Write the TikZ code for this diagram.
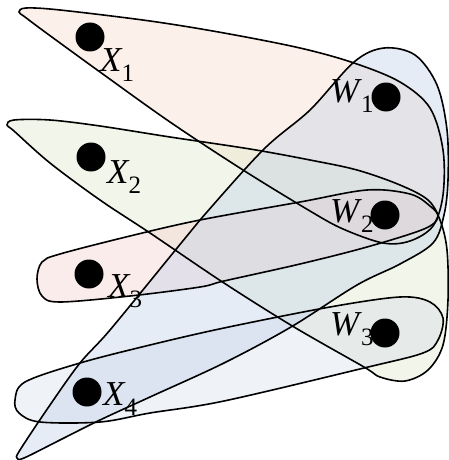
\documentclass[tikz,border=0pt]{standalone}
\usepackage{fontspec}
\setmainfont{Liberation Serif}
\definecolor{cA}{RGB}{248,218,200}
\definecolor{cB}{RGB}{222,230,200}
\definecolor{cC}{RGB}{245,205,205}
\definecolor{cD}{RGB}{212,220,234}
\definecolor{cE}{RGB}{188,206,230}
\newcommand\lab[2]{\textit{#1}\kern-1pt\raisebox{-10pt}{\fontsize{25}{25}\selectfont #2}}
\tikzset{
  edgefill/.style={fill opacity=0.38, draw=none},
  edgeline/.style={draw=black, line width=1.6pt, fill=none},
  dot/.style={circle, fill=black, inner sep=0pt, minimum size=29pt},
  lbl/.style={inner sep=0pt, anchor=base west, font=\fontsize{35}{35}\selectfont},
}
\begin{document}
\begin{tikzpicture}[x=1pt, y=-1pt]
\useasboundingbox (0,0) rectangle (448,460);
\def\shA{(19,12) (26,8) (60,10) (150,21) (224,33) (300,48) (354,63) (400,82) (430,108) (443,150) (443,195) (433,226) (410,241) (383,243) (343,229) (310,211) (243,170) (170,122) (100,72) (45,32) (25,17)}
\def\shB{(7,125) (14,120) (50,120) (100,126) (170,137) (250,149) (310,160) (357,170) (400,185) (428,200) (440,220) (447,250) (448,300) (443,345) (428,370) (405,381) (380,377) (364,367) (294,327) (224,283) (150,233) (100,200) (50,163) (14,131)}
\def\shC{(37,279) (42,262) (60,254) (130,236) (200,220) (300,202) (367,190) (410,194) (430,206) (438,217) (424,229) (367,247) (300,264) (224,281) (200,287) (130,296) (60,302) (42,296)}
\def\shD{(15,400) (25,382) (80,363) (150,345) (224,328) (330,307) (400,297) (430,302) (443,318) (438,340) (423,353) (364,368) (224,401) (150,413) (100,422) (40,422) (19,413)}
\def\shE{(17,458) (20,450) (50,405) (80,363) (110,330) (173,253) (200,220) (263,150) (310,110) (354,62) (384,48) (415,55) (437,85) (447,130) (448,180) (444,215) (433,243) (400,264) (357,285) (291,327) (224,363) (150,397) (100,420) (60,440) (24,458)}
% fills
\fill[edgefill, cA] plot[smooth cycle, tension=0.55] coordinates {\shA};
\fill[edgefill, cB] plot[smooth cycle, tension=0.55] coordinates {\shB};
\fill[edgefill, cC] plot[smooth cycle, tension=0.55] coordinates {\shC};
\fill[edgefill, cD] plot[smooth cycle, tension=0.55] coordinates {\shD};
\fill[edgefill, cE] plot[smooth cycle, tension=0.55] coordinates {\shE};
% outlines
\draw[edgeline] plot[smooth cycle, tension=0.55] coordinates {\shA};
\draw[edgeline] plot[smooth cycle, tension=0.55] coordinates {\shB};
\draw[edgeline] plot[smooth cycle, tension=0.55] coordinates {\shC};
\draw[edgeline] plot[smooth cycle, tension=0.55] coordinates {\shD};
\draw[edgeline] plot[smooth cycle, tension=0.55] coordinates {\shE};
% labels
\node[lbl] (lx1) at (100,71) {\lab{X}{1}};
\node[lbl] (lx2) at (107,183) {\lab{X}{2}};
\node[lbl] (lx3) at (108,297) {\lab{X}{3}};
\node[lbl] (lx4) at (103,405) {\lab{X}{4}};
\node[lbl] (lw1) at (330,102) {\lab{W}{1}};
\node[lbl] (lw2) at (330,222) {\lab{W}{2}};
\node[lbl] (lw3) at (330,335) {\lab{W}{3}};
% vertices
\node[dot] (x1) at (90,37) {};
\node[dot] (x2) at (91,157) {};
\node[dot] (x3) at (89,274) {};
\node[dot] (x4) at (87,392) {};
\node[dot] (w1) at (386,97) {};
\node[dot] (w2) at (385,215) {};
\node[dot] (w3) at (385,333) {};
\end{tikzpicture}
\end{document}
